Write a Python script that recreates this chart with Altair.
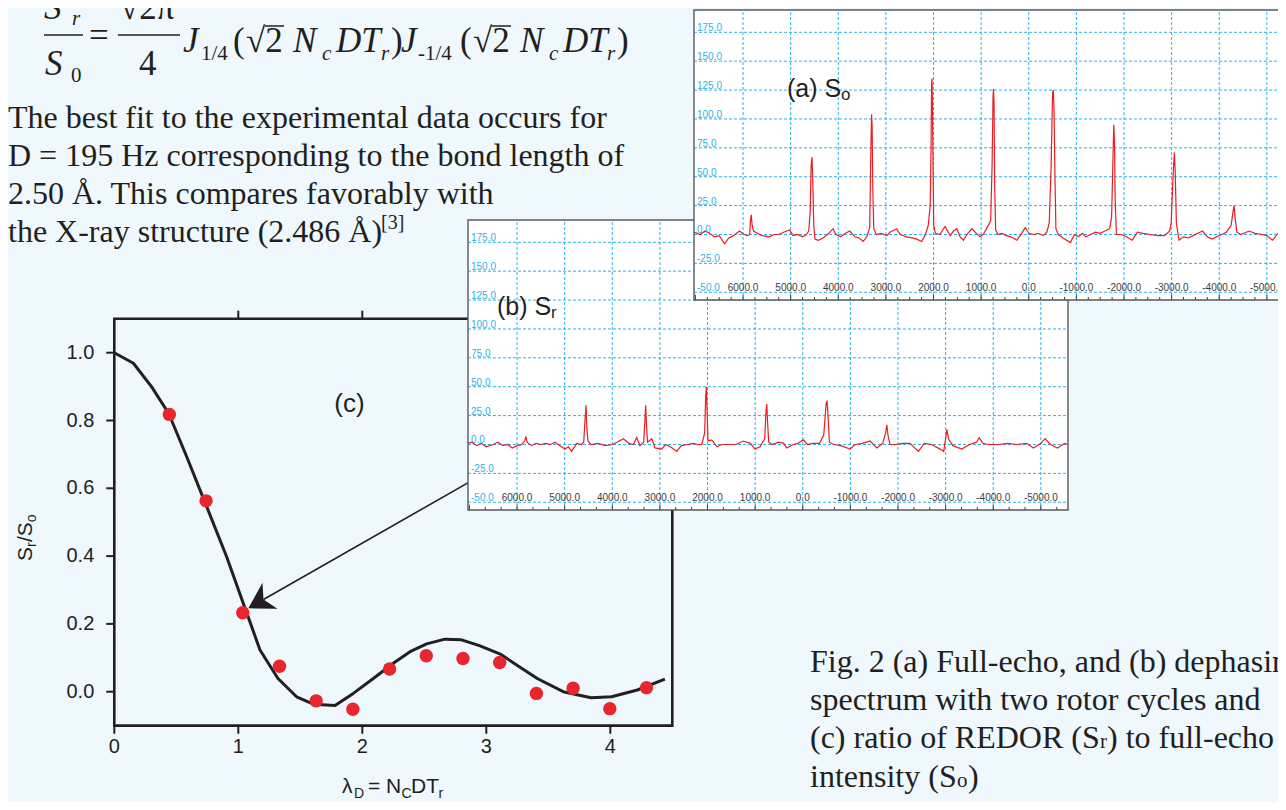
import altair as alt
import pandas as pd

# ---------------- layout constants ----------------
OX, OY = 8, 8          # page margin: image pixel -> chart pixel
W, H = 1270, 794
INK = "#231f20"
BG = "#eef8fd"
RED = "#e8262d"
CYAN = "#29b4e6"

# ---------------- panel (c) data ----------------
c_lambda = [0.444, 0.740, 1.036, 1.332, 1.628, 1.924, 2.220, 2.516, 2.812, 3.108, 3.404, 3.700, 3.996, 4.292]
c_ratio = [0.818, 0.563, 0.233, 0.075, -0.027, -0.052, 0.067, 0.106, 0.098, 0.086, -0.005, 0.010, -0.050, 0.012]
fit_lambda = [0.0, 0.154, 0.30, 0.44, 0.584, 0.745, 0.906, 1.04, 1.175, 1.32, 1.47, 1.605, 1.78, 1.927,
              2.089, 2.25, 2.385, 2.519, 2.667, 2.80, 2.95, 3.113, 3.26, 3.411, 3.62, 3.845, 4.01, 4.218, 4.44]
fit_ratio = [1.0, 0.969, 0.90, 0.82, 0.693, 0.546, 0.398, 0.261, 0.123, 0.039, -0.015, -0.037, -0.041, -0.005,
             0.039, 0.084, 0.118, 0.141, 0.155, 0.153, 0.135, 0.111, 0.075, 0.039, 0.0, -0.018, -0.015, 0.005, 0.037]
c_yticks = [0.0, 0.2, 0.4, 0.6, 0.8, 1.0]
c_ylabels = ["0.0", "0.2", "0.4", "0.6", "0.8", "1.0"]
c_xticks = [0, 1, 2, 3, 4]
c_xlabels = ["0", "1", "2", "3", "4"]
c_top_ticks = [1, 2, 3, 4]
C_XDOM = [0.0, 4.5]
C_YDOM = [-0.1, 1.1]
arrow_lambda = [3.0, 1.203]
arrow_ratio = [0.647, 0.272]
arrow_tip = (1.081, 0.246)

# ---------------- spectra data (Hz, intensity) ----------------
a_freq = [7030, 6900, 6800, 6705, 6600, 6500, 6389, 6300, 6200, 6074, 5980, 5900, 5860, 5845, 5827, 5810, 5780,
          5700, 5600, 5442, 5350, 5250, 5150, 5021, 4950, 4850, 4750, 4670, 4620, 4590, 4570, 4552, 4535, 4515,
          4490, 4420, 4320, 4200, 4109, 4050, 3950, 3850, 3758, 3650, 3560, 3478, 3400, 3340, 3315, 3301, 3290,
          3275, 3255, 3200, 3100, 2980, 2916, 2775, 2700, 2565, 2450, 2350, 2249, 2170, 2110, 2070, 2050, 2040,
          2032, 2022, 2010, 1995, 1960, 1870, 1758, 1650, 1580, 1512, 1440, 1372, 1300, 1196, 1100, 1021, 960,
          900, 800, 770, 750, 741, 730, 715, 695, 650, 560, 470, 380, 249, 150, 74, 0, -100, -200, -300, -380,
          -430, -470, -500, -515, -530, -550, -570, -620, -720, -874, -960, -1040, -1130, -1200, -1300, -1400,
          -1500, -1600, -1700, -1740, -1765, -1785, -1800, -1815, -1840, -1950, -2050, -2172, -2280, -2400,
          -2550, -2700, -2850, -2960, -2990, -3030, -3057, -3075, -3100, -3154, -3250, -3350, -3450, -3550,
          -3650, -3750, -3850, -3950, -4050, -4150, -4250, -4290, -4312, -4330, -4370, -4450, -4628, -4750,
          -4900, -5000, -5120, -5230, -5300, -5400, -5570]
a_int = [2, 0, 3, 1, -2, -1, -8, -3, -1, 3, 0, -1, 0, 12, 17, 8, 3,
         1, -1, -2, 0, 0, 2, 4, -1, 0, -2, 0, 3, 20, 60, 67, 45, 8,
         -4, -5, -3, 1, 5, 0, -2, 1, 3, -2, -3, -6, -2, 6, 75, 104, 95,
         40, 5, 0, 1, -1, 2, 5, 0, -2, -3, -4, -6, 0, 8, 25, 80, 130,
         135, 110, 60, 8, 1, 0, 7, -1, 3, 5, -2, -5, 0, 5, 1, -2, 0,
         4, 12, 60, 120, 126, 115, 40, 4, 0, 1, -1, -2, -5, 1, 6, 1, 0, 1, -1, 2,
         10, 60, 122, 125, 110, 50, 5, 0, -3, -7, 0, -2, 1, -2, 0, 2,
         1, 3, 5, 15, 60, 95, 80, 30, 0, 0, -2, -5, 2, 1,
         0, -1, -1, 3, 10, 50, 71, 55, 10, -5, -2, -3, -1, 1,
         3, -2, -4, -2, 0, 2, 8, 20, 25, 15, 2, 0, 3, 1,
         0, -1, -5, 1, 0, -4, -3]
b_freq = [7030, 6950, 6850, 6750, 6650, 6500, 6400, 6300, 6200, 6100, 6000, 5900, 5840, 5813, 5790, 5700, 5600,
          5500, 5400, 5300, 5200, 5100, 4994, 4920, 4853, 4750, 4650, 4600, 4575, 4552, 4535, 4510, 4450, 4300,
          4150, 4000, 3900, 3769, 3650, 3560, 3487, 3420, 3340, 3310, 3298, 3285, 3260, 3172, 3100, 2962, 2880,
          2780, 2647, 2550, 2420, 2300, 2200, 2120, 2060, 2040, 2025, 2010, 1990, 1912, 1800, 1700, 1550, 1400,
          1250, 1100, 1002, 900, 800, 770, 756, 740, 715, 650, 500, 400, 336, 200, 100, -13, -100, -200, -350,
          -440, -490, -510, -530, -560, -650, -800, -994, -1100, -1250, -1414, -1555, -1680, -1740, -1765,
          -1790, -1830, -1950, -2100, -2250, -2430, -2550, -2700, -2885, -2960, -3000, -3025, -3060, -3150,
          -3340, -3500, -3650, -3704, -3780, -3900, -4100, -4300, -4500, -4700, -4845, -5000, -5090, -5200,
          -5350, -5500, -5567]
b_int = [1, 2, -1, 1, -2, 0, 2, -1, 0, -3, -1, 0, 3, 7, 2, -1, 1,
         0, 1, 0, 2, -1, -4, -2, -6, 1, 0, 2, 20, 34, 15, 3, 0, 1,
         -1, 0, 2, 5, 1, 0, 6, -1, 2, 25, 34, 20, 2, 5, -3, -4, 0,
         -2, -6, -1, 0, 1, 0, 0, 10, 40, 50, 30, 3, 4, -2, 0, 0, 0,
         3, 1, -4, -2, 5, 30, 35, 20, 2, 0, 2, 1, -3, 0, 1, 4, 0, 1, 1,
         8, 35, 38, 25, 2, 0, -1, -4, 0, 1, 3, -3, 1, 10, 17,
         8, 0, 0, 1, 1, -6, 1, 0, -4, -6, 5, 13, 5, -1,
         -4, 0, 2, 6, 1, 0, 0, 1, 0, 1, -3, 1, 5, 0,
         -3, 1, 0]
S_XDOM = [7030, -5570]
S_YDOM = [-56.7, 194.3]
S_YGRID = [-50, -25, 0, 25, 50, 75, 100, 125, 150, 175]
S_XGRID = [6000, 5000, 4000, 3000, 2000, 1000, 0, -1000, -2000, -3000, -4000, -5000]
S_W, S_H = 600, 290

# ---------------- panel (c) ----------------
xc = alt.Scale(domain=C_XDOM, range=[114.3 - OX, 672.3 - OX], nice=False, zero=False)
yc = alt.Scale(domain=C_YDOM, range=[725.6 - OY, 318.8 - OY], nice=False, zero=False)


def XC(f):
    return alt.X(f, scale=xc, axis=None)


def YC(f):
    return alt.Y(f, scale=yc, axis=None)


frame_df = pd.DataFrame({"x0": [C_XDOM[0]], "x1": [C_XDOM[1]], "y0": [C_YDOM[0]], "y1": [C_YDOM[1]]})
c_frame = alt.Chart(frame_df).mark_rect(fill="transparent", stroke=INK, strokeWidth=2.6).encode(
    x=XC("x0:Q"), x2="x1:Q", y=YC("y0:Q"), y2="y1:Q")

lt = pd.DataFrame({"y": c_yticks, "xa": -0.065, "xb": 0.0, "lab": c_ylabels})
c_lticks = alt.Chart(lt).mark_rule(color=INK, strokeWidth=2).encode(x=XC("xa:Q"), x2="xb:Q", y=YC("y:Q"))
c_llab = alt.Chart(lt).mark_text(align="right", baseline="middle", dx=-20, fontSize=20,
                                 font="Liberation Sans", color=INK).encode(x=XC("xb:Q"), y=YC("y:Q"), text="lab:N")

bt = pd.DataFrame({"x": c_xticks, "ya": C_YDOM[0], "yb": C_YDOM[0] - 0.024, "lab": c_xlabels})
c_bticks = alt.Chart(bt).mark_rule(color=INK, strokeWidth=2).encode(x=XC("x:Q"), y=YC("ya:Q"), y2="yb:Q")
c_blab = alt.Chart(bt).mark_text(align="center", baseline="middle", dy=21, fontSize=20,
                                 font="Liberation Sans", color=INK).encode(x=XC("x:Q"), y=YC("ya:Q"), text="lab:N")
tt = pd.DataFrame({"x": c_top_ticks, "ya": C_YDOM[1], "yb": C_YDOM[1] + 0.024})
c_tticks = alt.Chart(tt).mark_rule(color=INK, strokeWidth=2).encode(x=XC("x:Q"), y=YC("ya:Q"), y2="yb:Q")

fit_df = pd.DataFrame({"lam": fit_lambda, "r": fit_ratio})
c_fit = alt.Chart(fit_df).mark_line(color=INK, strokeWidth=3, strokeJoin="round").encode(
    x=XC("lam:Q"), y=YC("r:Q"), order="lam:Q")
pts_df = pd.DataFrame({"lam": c_lambda, "r": c_ratio})
c_pts = alt.Chart(pts_df).mark_circle(size=180, color=RED, opacity=1).encode(x=XC("lam:Q"), y=YC("r:Q"))

arr_df = pd.DataFrame({"x0": [arrow_lambda[0]], "x1": [arrow_lambda[1]], "y0": [arrow_ratio[0]], "y1": [arrow_ratio[1]]})
c_arrow = alt.Chart(arr_df).mark_rule(color=INK, strokeWidth=1.6).encode(
    x=XC("x0:Q"), x2="x1:Q", y=YC("y0:Q"), y2="y1:Q")
tip_df = pd.DataFrame({"x": [arrow_tip[0]], "y": [arrow_tip[1]]})
c_head = alt.Chart(tip_df).mark_point(shape="M 0 0 L -2 -1.2 L -1.4 0 L -2 1.2 Z", angle=150, size=625,
                                      filled=True, color=INK, opacity=1, strokeWidth=0).encode(
    x=XC("x:Q"), y=YC("y:Q"))
lab_df = pd.DataFrame({"x": [1.897], "y": [0.85], "t": ["(c)"]})
c_lab = alt.Chart(lab_df).mark_text(fontSize=26, font="Liberation Sans", color=INK, baseline="middle").encode(
    x=XC("x:Q"), y=YC("y:Q"), text="t:N")

panel_c = alt.layer(c_frame, c_lticks, c_llab, c_bticks, c_blab, c_tticks, c_arrow, c_head, c_fit, c_pts, c_lab)


# ---------------- spectra ----------------
def spectrum(freq, inten, left, bottom, minor_step):
    xs = alt.Scale(domain=S_XDOM, range=[left - OX, left - OX + S_W], nice=False, zero=False)
    ys = alt.Scale(domain=S_YDOM, range=[bottom - OY, bottom - OY - S_H], nice=False, zero=False)

    def XS(f):
        return alt.X(f, scale=xs, axis=None)

    def YS(f):
        return alt.Y(f, scale=ys, axis=None)

    box = pd.DataFrame({"x0": [S_XDOM[0]], "x1": [S_XDOM[1]], "y0": [S_YDOM[0]], "y1": [S_YDOM[1]]})
    bg = alt.Chart(box).mark_rect(fill="white").encode(x=XS("x0:Q"), x2="x1:Q", y=YS("y0:Q"), y2="y1:Q")
    border = alt.Chart(box).mark_rect(fill="transparent", stroke="#58595b", strokeWidth=1.4).encode(
        x=XS("x0:Q"), x2="x1:Q", y=YS("y0:Q"), y2="y1:Q")
    hg = pd.DataFrame({"y": S_YGRID, "x0": S_XDOM[0], "x1": S_XDOM[1],
                       "lab": [f"{v:.1f}" for v in S_YGRID]})
    hgrid = alt.Chart(hg).mark_rule(color=CYAN, strokeWidth=1, strokeDash=[3, 2]).encode(
        x=XS("x0:Q"), x2="x1:Q", y=YS("y:Q"))
    ylab = alt.Chart(hg).mark_text(align="left", baseline="alphabetic", dx=3, dy=-1, fontSize=10,
                                   font="Liberation Sans", color=CYAN).encode(x=XS("x0:Q"), y=YS("y:Q"), text="lab:N")
    vg = pd.DataFrame({"x": S_XGRID, "y0": S_YDOM[0], "y1": S_YDOM[1], "yl": S_YGRID[0],
                       "lab": [f"{v:.1f}" for v in S_XGRID]})
    vgrid = alt.Chart(vg).mark_rule(color=CYAN, strokeWidth=1, strokeDash=[3, 2]).encode(
        x=XS("x:Q"), y=YS("y0:Q"), y2="y1:Q")
    xlab = alt.Chart(vg).mark_text(align="center", baseline="alphabetic", dy=-1, fontSize=10,
                                   font="Liberation Sans", color="#3c3c3c").encode(x=XS("x:Q"), y=YS("yl:Q"), text="lab:N")
    tick_x = []
    v = 7000.0
    while v > S_XDOM[1]:
        tick_x.append(v)
        v -= minor_step
    tk = pd.DataFrame({"x": tick_x, "y0": S_YDOM[0],
                       "y1": [S_YDOM[0] + (4.5 if abs(t % 1000) < 1 or abs(t % 1000 - 1000) < 1 else 2.6) for t in tick_x]})
    ticks = alt.Chart(tk).mark_rule(color="#3c3c3c", strokeWidth=1).encode(x=XS("x:Q"), y=YS("y0:Q"), y2="y1:Q")
    sp = pd.DataFrame({"f": freq, "i": inten})
    line = alt.Chart(sp).mark_line(color="#ec1c24", strokeWidth=1.2).encode(
        x=XS("f:Q"), y=YS("i:Q"), order=alt.Order("f:Q", sort="descending"))
    return alt.layer(bg, hgrid, vgrid, ylab, xlab, line, ticks, border)


panel_b = spectrum(b_freq, b_int, 468, 510, 1000 / 3)
panel_a = spectrum(a_freq, a_int, 694, 300, 250)


# ---------------- text helpers ----------------
def text_layer(rows, font, style="normal", angle=0, color=INK, align="left"):
    df = pd.DataFrame(rows, columns=["t", "x", "y", "s"])
    df["x"] = df["x"] - OX
    df["y"] = df["y"] - OY
    return alt.Chart(df).mark_text(font=font, fontStyle=style, angle=angle, color=color, align=align,
                                   baseline="alphabetic").encode(
        x=alt.X("x:Q", scale=None, axis=None), y=alt.Y("y:Q", scale=None, axis=None),
        size=alt.Size("s:Q", scale=None, legend=None), text="t:N")


SERIF = "Liberation Serif"
SANS = "Liberation Sans"

para = text_layer([
    ("The best fit to the experimental data occurs for", 8, 128, 32),
    ("D = 195 Hz corresponding to the bond length of", 8, 166, 32),
    ("2.50 Å. This compares favorably with", 8, 204, 32),
    ("the X-ray structure (2.486 Å)", 8, 242, 32),
    ("[3]", 381, 229, 20),
], SERIF)

caption = text_layer([
    ("Fig. 2 (a) Full-echo, and (b) dephasing", 810, 672, 32),
    ("spectrum with two rotor cycles and", 810, 710, 32),
    ("(c) ratio of REDOR (S", 810, 748, 32),
    ("r", 1100, 748, 21),
    (") to full-echo", 1107, 748, 32),
    ("intensity (S", 810, 787, 32),
    ("o", 957, 787, 21),
    (")", 968, 787, 32),
], SERIF)

formula_up = text_layer([
    ("=", 89, 47, 35), ("√2π", 120, 19, 35), ("4", 139, 75, 35), ("0", 71, 82, 21),
    ("1/4", 201, 60, 21), ("(", 233, 52, 35), ("√2", 246, 52, 35), (")", 391, 52, 35),
    ("-1/4", 418, 60, 21), ("(", 460, 52, 35), ("√2", 473, 52, 35), (")", 617, 52, 35),
], SERIF)
formula_it = text_layer([
    ("S", 44, 19, 35), ("r", 72, 25, 21), ("S", 45, 75, 35), ("J", 183, 52, 35),
    ("N", 293, 52, 35), ("c", 322, 60, 21), ("DT", 336, 52, 35), ("r", 381, 60, 21),
    ("J", 401, 52, 35), ("N", 520, 52, 35), ("c", 549, 60, 21), ("DT", 563, 52, 35), ("r", 607, 60, 21),
], SERIF, style="italic")

bars_df = pd.DataFrame({"x0": [44, 118, 265, 492], "x1": [83, 180, 284, 511], "y": [35, 35, 26, 26]})
bars_df["x0"] -= OX
bars_df["x1"] -= OX
bars_df["y"] -= OY
bars = alt.Chart(bars_df).mark_rule(color=INK, strokeWidth=1.5).encode(
    x=alt.X("x0:Q", scale=None, axis=None), x2="x1:Q", y=alt.Y("y:Q", scale=None, axis=None))

xtitle = text_layer([
    ("λ", 342, 793, 21), ("D", 354, 797.5, 14), ("= N", 368, 793, 21),
    ("C", 401.5, 797.5, 14), ("DT", 411, 793, 21), ("r", 438.5, 797.5, 14),
], SANS)
ytitle_main = text_layer([("S", 32, 561, 21), ("/S", 32, 542, 21)], SANS, angle=270)
ytitle_sub = text_layer([("r", 36, 547, 14), ("o", 36, 522.2, 14)], SANS, angle=270)

spec_labels = text_layer([
    ("(a) S", 787, 97, 25), ("o", 841, 100, 17),
    ("(b) S", 497, 315, 25), ("r", 551, 318, 17),
], SANS)

chart = alt.layer(
    panel_c, xtitle, ytitle_main, ytitle_sub, panel_b, panel_a, spec_labels,
    para, caption, formula_up, formula_it, bars,
).resolve_scale(x="independent", y="independent", size="independent").properties(
    width=W, height=H, padding=0, autosize="none", background=BG
).configure_view(strokeWidth=0)

chart.save("out.html", embed_options={"renderer": "svg", "actions": False})
